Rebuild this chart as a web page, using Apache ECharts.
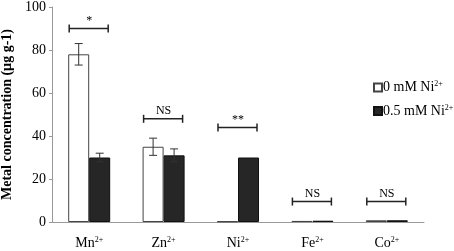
<!DOCTYPE html>
<html>
<head>
<meta charset="utf-8">
<script src="https://cdn.jsdelivr.net/npm/echarts@6/dist/echarts.min.js"></script>
<style>
html, body { margin: 0; padding: 0; background: #fff; }
#chart { width: 454px; height: 251px; }
</style>
</head>
<body>
<div id="chart"></div>
<script>
// data
var metals = ['Mn', 'Zn', 'Ni', 'Fe', 'Co']
var ctrl = [78, 35, 0.3, 0.5, 0.8]        // 0 mM Ni2+
var treat = [30, 31, 30, 0.6, 0.8]        // 0.5 mM Ni2+
var ctrlErr = [5, 4, 0, 0, 0]
var treatErr = [2, 3, 0, 0, 0]
var sigLevel = [90, 48, 44, 9.5, 9.5]
var sigText = ['*', 'NS', '**', 'NS', 'NS']

var serif = 'Liberation Serif'
var barW = 21

function errData (vals, errs) {
  var out = []
  for (var i = 0; i < vals.length; i++) {
    if (errs[i] > 0) out.push([i, vals[i] - errs[i], vals[i] + errs[i]])
  }
  return out
}

function errSeries (data, side) {
  return {
    type: 'custom',
    data: data,
    z: 5,
    renderItem: function (params, api) {
      var lo = api.coord([api.value(0), api.value(1)])
      var hi = api.coord([api.value(0), api.value(2)])
      var x = lo[0] + side * barW / 2
      var st = { stroke: '#333', lineWidth: 1 }
      return {
        type: 'group',
        children: [
          { type: 'line', shape: { x1: x, y1: lo[1], x2: x, y2: hi[1] }, style: st },
          { type: 'line', shape: { x1: x - 4, y1: lo[1], x2: x + 4, y2: lo[1] }, style: st },
          { type: 'line', shape: { x1: x - 4, y1: hi[1], x2: x + 4, y2: hi[1] }, style: st }
        ]
      }
    }
  }
}

var sigData = metals.map(function (m, i) { return [i, sigLevel[i], sigText[i]] })

var richTxt = {
  a: { fontFamily: serif, fontSize: 14, color: '#000', lineHeight: 15 },
  s: { fontFamily: serif, fontSize: 8, color: '#000', verticalAlign: 'top', lineHeight: 15 }
}

var chart = echarts.init(document.getElementById('chart'))
chart.setOption({
  animation: false,
  grid: { left: 52, right: 30, top: 7, bottom: 29, outerBoundsMode: 'none' },
  legend: {
    orient: 'vertical',
    left: 368,
    top: 75,
    itemWidth: 8,
    itemHeight: 8,
    itemGap: 9,
    icon: 'rect',
    data: ['0 mM Ni2+', '0.5 mM Ni2+'],
    formatter: function (name) {
      return '{a|' + name.replace('2+', '') + '}{s|2+}'
    },
    textStyle: {
      fontFamily: serif,
      color: '#000',
      padding: [0, 0, 0, -4],
      rich: richTxt
    }
  },
  xAxis: {
    type: 'category',
    data: metals,
    axisLine: { lineStyle: { color: '#999' } },
    axisTick: { length: 4, lineStyle: { color: '#999' } },
    axisLabel: {
      interval: 0,
      margin: 14,
      formatter: function (v) { return '{a|' + v + '}{s|2+}' },
      rich: richTxt
    }
  },
  yAxis: {
    type: 'value',
    min: 0,
    max: 100,
    interval: 20,
    name: 'Metal concentration (µg g-1)',
    nameLocation: 'middle',
    nameGap: 31,
    nameTextStyle: { fontFamily: serif, fontSize: 14, fontWeight: 'bold', color: '#000' },
    splitLine: { show: false },
    axisLine: { show: true, lineStyle: { color: '#999' } },
    axisTick: { show: true, length: 3, lineStyle: { color: '#999' } },
    axisLabel: { fontFamily: serif, fontSize: 14, color: '#000', margin: 6 }
  },
  series: [
    {
      name: '0 mM Ni2+',
      type: 'bar',
      data: ctrl,
      barWidth: barW,
      barGap: '0%',
      itemStyle: { color: '#fff', borderColor: '#444', borderWidth: 1 }
    },
    {
      name: '0.5 mM Ni2+',
      type: 'bar',
      data: treat,
      barWidth: barW,
      itemStyle: { color: '#262626', borderColor: '#111', borderWidth: 1 }
    },
    errSeries(errData(ctrl, ctrlErr), -1),
    errSeries(errData(treat, treatErr), 1),
    {
      type: 'custom',
      data: sigData,
      z: 6,
      renderItem: function (params, api) {
        var p = api.coord([api.value(0), api.value(1)])
        var x1 = p[0] - 20
        var x2 = p[0] + 19
        var y = p[1]
        var st = { stroke: '#222', lineWidth: 1.5 }
        return {
          type: 'group',
          children: [
            { type: 'line', shape: { x1: x1, y1: y, x2: x2, y2: y }, style: st },
            { type: 'line', shape: { x1: x1, y1: y - 4, x2: x1, y2: y + 4 }, style: st },
            { type: 'line', shape: { x1: x2, y1: y - 4, x2: x2, y2: y + 4 }, style: st },
            {
              type: 'text',
              style: {
                x: p[0],
                y: y - 2,
                text: sigData[params.dataIndex][2],
                align: 'center',
                verticalAlign: 'bottom',
                fontFamily: serif,
                fontSize: 12,
                fill: '#000'
              }
            }
          ]
        }
      }
    }
  ]
})
</script>
</body>
</html>
